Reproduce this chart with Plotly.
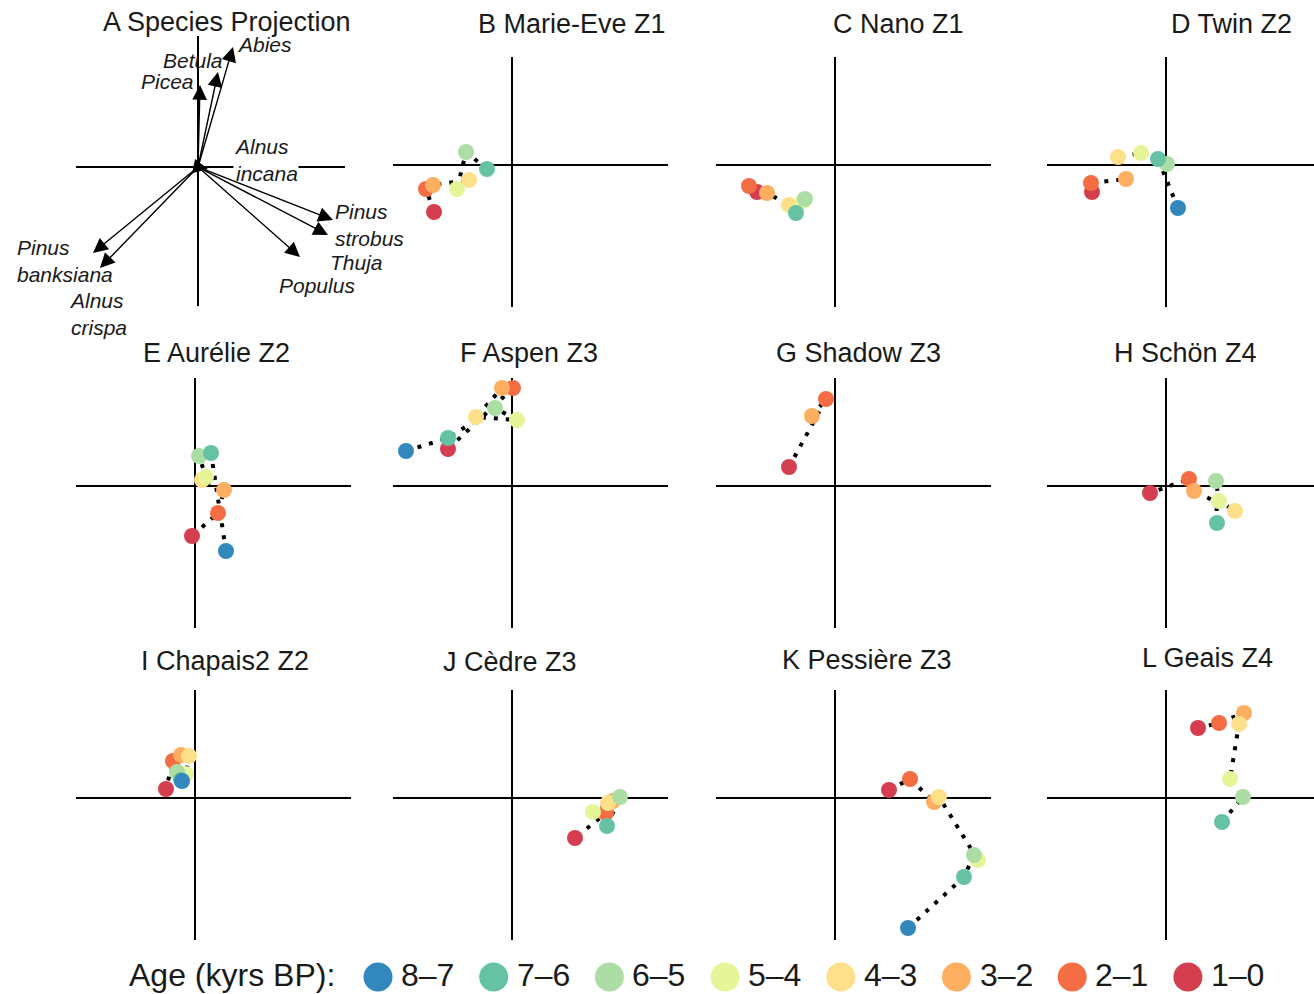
import plotly.graph_objects as go

W, H = 1314, 994
FONT = "Liberation Sans, Arial, Helvetica, sans-serif"

# Age bins (oldest first) and their Spectral colours
ages = ["8–7", "7–6", "6–5", "5–4", "4–3", "3–2", "2–1", "1–0"]
age_colors = ["#3288BD", "#66C2A5", "#ABDDA4", "#E6F598",
              "#FEE08B", "#FDAE61", "#F46D43", "#D53E4F"]

# Species loadings (arrow tips) for the projection panel
species = ["Abies", "Betula", "Picea", "Alnus<br>incana", "Pinus<br>strobus",
           "Thuja", "Populus", "Pinus<br>banksiana", "Alnus<br>crispa"]
species_x = [0.35, 0.20, 0.02, 0.10, 1.35, 1.30, 1.02, -1.05, -0.98]
species_y = [1.20, 0.95, 0.82, -0.02, -0.53, -0.68, -0.90, -0.86, -1.01]

# Site scores per age bin (None = no sample in that bin)
marie_eve_x = [None, -0.25, -0.46, -0.55, -0.43, -0.79, -0.86, -0.78]
marie_eve_y = [None, -0.04, 0.13, -0.24, -0.15, -0.20, -0.24, -0.47]
nano_x = [None, -0.39, -0.30, -0.32, -0.46, -0.68, -0.86, -0.78]
nano_y = [None, -0.48, -0.34, -0.36, -0.40, -0.28, -0.21, -0.27]
twin_x = [0.12, -0.08, 0.01, -0.25, -0.48, -0.40, -0.75, -0.74]
twin_y = [-0.43, 0.06, 0.01, 0.12, 0.08, -0.14, -0.18, -0.27]
aurelie_x = [0.31, 0.16, 0.04, 0.11, 0.07, 0.29, 0.23, -0.03]
aurelie_y = [-0.65, 0.33, 0.30, 0.09, 0.06, -0.04, -0.27, -0.50]
aspen_x = [-1.06, -0.64, -0.17, 0.05, -0.36, -0.10, 0.01, -0.64]
aspen_y = [0.35, 0.48, 0.78, 0.66, 0.69, 0.98, 0.98, 0.37]
shadow_x = [None, None, None, None, None, -0.23, -0.09, -0.46]
shadow_y = [None, None, None, None, None, 0.70, 0.87, 0.19]
schon_x = [None, 0.51, 0.50, 0.53, 0.69, 0.28, 0.23, -0.16]
schon_y = [None, -0.37, 0.05, -0.15, -0.25, -0.05, 0.07, -0.07]
chapais2_x = [-0.13, -0.14, -0.18, -0.09, -0.06, -0.14, -0.22, -0.29]
chapais2_y = [0.17, 0.18, 0.26, 0.24, 0.42, 0.43, 0.37, 0.09]
cedre_x = [None, 0.95, 1.08, 0.81, 0.96, 1.01, 0.94, 0.63]
cedre_y = [None, -0.28, 0.01, -0.14, -0.05, -0.03, -0.15, -0.40]
pessiere_x = [0.73, 1.29, 1.39, 1.43, 1.04, 0.99, 0.75, 0.54]
pessiere_y = [-1.30, -0.79, -0.57, -0.62, 0.01, -0.04, 0.19, 0.08]
geais_x = [None, 0.56, 0.77, 0.64, 0.73, 0.78, 0.53, 0.32]
geais_y = [None, -0.24, 0.01, 0.19, 0.74, 0.85, 0.75, 0.70]

site_titles = ["B Marie-Eve Z1", "C Nano Z1", "D Twin Z2",
               "E Aurélie Z2", "F Aspen Z3", "G Shadow Z3", "H Schön Z4",
               "I Chapais2 Z2", "J Cèdre Z3", "K Pessière Z3", "L Geais Z4"]
site_scores = [(marie_eve_x, marie_eve_y), (nano_x, nano_y), (twin_x, twin_y),
               (aurelie_x, aurelie_y), (aspen_x, aspen_y), (shadow_x, shadow_y),
               (schon_x, schon_y), (chapais2_x, chapais2_y), (cedre_x, cedre_y),
               (pessiere_x, pessiere_y), (geais_x, geais_y)]

# ---- panel geometry (pixels) ----
col_px = [(76, 351), (393, 668), (716, 991), (1047, 1314)]
row_px = [(57, 307), (378, 628), (690, 940)]
PX_PER_UNIT = 100.0
X_LEFT = 1.19   # units left of the origin
Y_TOP = 1.08    # units above the origin
title_pos = [(227, 22), (572, 24), (898, 24), (1231, 24),
             (216, 353), (529, 353), (858, 353), (1185, 353),
             (225, 661), (510, 662), (867, 660), (1207, 658)]
all_titles = ["A Species Projection"] + site_titles


def xdom(a, b):
    return [a / W, min(b / W, 1.0)]


def ydom(top, bottom):
    return [1 - bottom / H, 1 - top / H]


fig = go.Figure()
layout = dict(width=W, height=H, margin=dict(l=0, r=0, t=0, b=0),
              paper_bgcolor="white", plot_bgcolor="white", showlegend=False,
              font=dict(family=FONT, color="#1a1a1a"))
annotations = []

axis_common = dict(showgrid=False, showticklabels=False, ticks="",
                   showline=False, zeroline=True, zerolinecolor="black",
                   zerolinewidth=2, fixedrange=True)

# panel A axes
A_XPX, A_YPX = (76, 345), (36, 306)
A_XR, A_YR = [-1.22, 1.47], [-1.39, 1.31]
layout["xaxis"] = dict(axis_common, domain=xdom(*A_XPX), range=A_XR, anchor="y")
layout["yaxis"] = dict(axis_common, domain=ydom(*A_YPX), range=A_YR, anchor="x")


def a_to_paper(x, y):
    """Map panel-A data coordinates to paper fractions (labels may sit outside)."""
    xd, yd = xdom(*A_XPX), ydom(*A_YPX)
    px = xd[0] + (x - A_XR[0]) / (A_XR[1] - A_XR[0]) * (xd[1] - xd[0])
    py = yd[0] + (y - A_YR[0]) / (A_YR[1] - A_YR[0]) * (yd[1] - yd[0])
    return px, py


# site panel axes
for k in range(11):
    idx = k + 1
    r, c = divmod(idx, 4)
    x0, x1 = col_px[c]
    y0, y1 = row_px[r]
    n = idx + 1
    xr = [-X_LEFT, -X_LEFT + (min(x1, W) - x0) / PX_PER_UNIT]
    yr = [Y_TOP - (y1 - y0) / PX_PER_UNIT, Y_TOP]
    layout[f"xaxis{n}"] = dict(axis_common, domain=xdom(x0, x1), range=xr,
                               anchor=f"y{n}")
    layout[f"yaxis{n}"] = dict(axis_common, domain=ydom(y0, y1), range=yr,
                               anchor=f"x{n}")

# ---- species projection: labels (incana white backed) then arrows ----
label_pos = [(0.38, 1.23, "left"), (-0.05, 1.07, "center"),
             (-0.305, 0.85, "center"), (0.35, 0.07, "left"),
             (1.36, -0.575, "left"), (1.31, -0.95, "left"),
             (1.19, -1.18, "center"), (-1.82, -0.935, "left"),
             (-1.30, -1.47, "left")]
for name, (lx, ly, anc) in zip(species, label_pos):
    px, py = a_to_paper(lx, ly)
    annotations.append(dict(
        x=px, y=py, xref="paper", yref="paper", text=f"<i>{name}</i>",
        showarrow=False, xanchor=anc, yanchor="middle", align="left",
        font=dict(size=21, family=FONT, color="#1a1a1a"),
        bgcolor="white" if name == "Alnus<br>incana" else None,
        borderpad=0))
for sx, sy in zip(species_x, species_y):
    annotations.append(dict(
        x=sx, y=sy, ax=0, ay=0, xref="x", yref="y", axref="x", ayref="y",
        text="", showarrow=True, arrowhead=2, arrowsize=2.1,
        arrowwidth=1.4, arrowcolor="black", standoff=0, startstandoff=0))

# ---- site trajectories ----
for k, (xs, ys) in enumerate(site_scores):
    n = k + 2
    pts = [(x, y, a, col) for x, y, a, col in zip(xs, ys, ages, age_colors)
           if x is not None]
    fig.add_trace(go.Scatter(
        x=[p[0] for p in pts], y=[p[1] for p in pts], mode="lines",
        line=dict(color="black", width=4, dash="4px,8px"),
        xaxis=f"x{n}", yaxis=f"y{n}", hoverinfo="skip", cliponaxis=False))
    rev = pts[::-1]
    fig.add_trace(go.Scatter(
        x=[p[0] for p in rev], y=[p[1] for p in rev], mode="markers",
        marker=dict(size=16, color=[p[3] for p in rev], line=dict(width=0)),
        text=[p[2] for p in rev], xaxis=f"x{n}", yaxis=f"y{n}",
        cliponaxis=False))

# ---- panel titles ----
for t, (tx, ty) in zip(all_titles, title_pos):
    annotations.append(dict(
        x=tx / W, y=1 - ty / H, xref="paper", yref="paper", text=t,
        showarrow=False, xanchor="center", yanchor="middle",
        font=dict(size=27, family=FONT, color="#1a1a1a")))

# ---- age legend row ----
leg_start, leg_step = 378, 115.7
leg_x = [leg_start + i * leg_step for i in range(len(ages))]
layout["xaxis13"] = dict(visible=False, domain=[0, 1], range=[0, W],
                         anchor="y13", fixedrange=True)
layout["yaxis13"] = dict(visible=False, domain=ydom(960, 994), range=[0, 1],
                         anchor="x13", fixedrange=True)
fig.add_trace(go.Scatter(
    x=leg_x, y=[0.5] * len(ages), mode="markers",
    marker=dict(size=29, color=age_colors, line=dict(width=0)),
    text=ages, xaxis="x13", yaxis="y13", cliponaxis=False))
LEG_TEXT_Y = 1 - 974.5 / H
for a, lx in zip(ages, leg_x):
    annotations.append(dict(
        x=(lx + 22) / W, y=LEG_TEXT_Y, xref="paper", yref="paper", text=a,
        showarrow=False, xanchor="left", yanchor="middle", borderpad=0,
        font=dict(size=32, family=FONT, color="#1a1a1a")))
annotations.append(dict(
    x=336 / W, y=LEG_TEXT_Y, xref="paper", yref="paper", text="Age (kyrs BP):",
    showarrow=False, xanchor="right", yanchor="middle", borderpad=0,
    font=dict(size=32, family=FONT, color="#1a1a1a")))

layout["annotations"] = annotations
fig.update_layout(**layout)
fig.write_html("out.html")
